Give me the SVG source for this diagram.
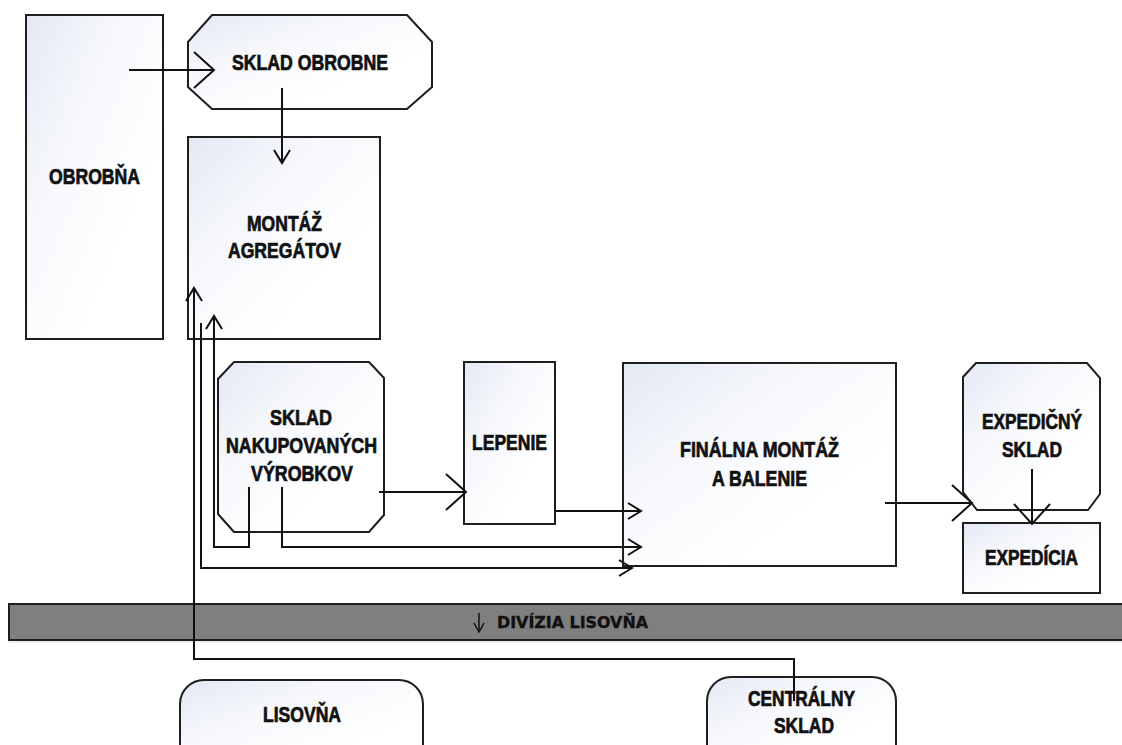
<svg xmlns="http://www.w3.org/2000/svg" width="1122" height="745" viewBox="0 0 1122 745">
<defs>
<linearGradient id="nodeFill" x1="0" y1="0" x2="0.7" y2="0.7">
<stop offset="0" stop-color="#e3e8f4"/>
<stop offset="0.45" stop-color="#f5f7fb"/>
<stop offset="1" stop-color="#ffffff"/>
</linearGradient>
<marker id="big" viewBox="-24 -22 28 44" markerWidth="28" markerHeight="44" refX="0" refY="0" markerUnits="userSpaceOnUse" orient="auto" overflow="visible">
<path d="M-20,-18 L0,0 L-20,18" fill="none" stroke="#111" stroke-width="2"/>
</marker>
<marker id="small" viewBox="-16 -10 20 20" markerWidth="20" markerHeight="20" refX="0" refY="0" markerUnits="userSpaceOnUse" orient="auto" overflow="visible">
<path d="M-13,-8 L0,0 L-13,8" fill="none" stroke="#111" stroke-width="2"/>
</marker>
<marker id="tiny" viewBox="-10 -6 12 12" markerWidth="12" markerHeight="12" refX="0" refY="0" markerUnits="userSpaceOnUse" orient="auto" overflow="visible">
<path d="M-9,-5 L0,0 L-9,5" fill="none" stroke="#111" stroke-width="1.5"/>
</marker>
</defs>
<style>
.node{fill:url(#nodeFill);stroke:#1e1e1e;stroke-width:2}
.lbl{font-family:"Liberation Sans",Arial,sans-serif;font-weight:bold;font-size:21.5px;fill:#111;stroke:#111;stroke-width:0.7;text-anchor:middle}
.bar{fill:#7f7f7f;stroke:#1e1e1e;stroke-width:2}
.barlbl{font-family:"DejaVu Sans","Liberation Sans",sans-serif;font-weight:bold;font-size:16px;fill:#111;stroke:#111;stroke-width:0.4;text-anchor:middle}
.c{fill:none;stroke:#111;stroke-width:2}
</style>
<rect width="1122" height="745" fill="#ffffff"/>

<g id="obrobna">
<rect class="node" x="26" y="15" width="137" height="324"/>
<text class="lbl" x="94.5" y="184" textLength="91" lengthAdjust="spacingAndGlyphs">OBROBŇA</text>
</g>
<g id="sklad-obrobne">
<path class="node" d="M212,15 L407,15 L432,42 L432,87 L407,109 L212,109 L188,87 L188,42 Z"/>
<text class="lbl" x="310" y="69.5" textLength="156" lengthAdjust="spacingAndGlyphs">SKLAD OBROBNE</text>
</g>
<g id="montaz-agregatov">
<rect class="node" x="188" y="137" width="192" height="202"/>
<text class="lbl" x="284.5" y="231" textLength="75" lengthAdjust="spacingAndGlyphs">MONTÁŽ</text>
<text class="lbl" x="284.5" y="258" textLength="113" lengthAdjust="spacingAndGlyphs">AGREGÁTOV</text>
</g>
<g id="sklad-nakupovanych">
<path class="node" d="M234,362 L369,362 L384,378 L384,515 L369,532 L234,532 L218,514 L218,379 Z"/>
<text class="lbl" x="301" y="425" textLength="62" lengthAdjust="spacingAndGlyphs">SKLAD</text>
<text class="lbl" x="301.5" y="453" textLength="151" lengthAdjust="spacingAndGlyphs">NAKUPOVANÝCH</text>
<text class="lbl" x="302" y="481" textLength="102" lengthAdjust="spacingAndGlyphs">VÝROBKOV</text>
</g>
<g id="lepenie">
<rect class="node" x="464" y="362" width="91" height="162"/>
<text class="lbl" x="509.5" y="450" textLength="75" lengthAdjust="spacingAndGlyphs">LEPENIE</text>
</g>
<g id="finalna-montaz">
<rect class="node" x="623" y="363" width="273" height="203"/>
<text class="lbl" x="759.5" y="457" textLength="159" lengthAdjust="spacingAndGlyphs">FINÁLNA MONTÁŽ</text>
<text class="lbl" x="759.5" y="486" textLength="95" lengthAdjust="spacingAndGlyphs">A BALENIE</text>
</g>
<g id="expedicny-sklad">
<path class="node" d="M976,363 L1087,363 L1100,378 L1100,494 L1088,510 L977,510 L963,492 L963,377 Z"/>
<text class="lbl" x="1032" y="429" textLength="100" lengthAdjust="spacingAndGlyphs">EXPEDIČNÝ</text>
<text class="lbl" x="1032" y="457" textLength="60" lengthAdjust="spacingAndGlyphs">SKLAD</text>
</g>
<g id="expedicia">
<rect class="node" x="963" y="523" width="137" height="70"/>
<text class="lbl" x="1031.5" y="565" textLength="93" lengthAdjust="spacingAndGlyphs">EXPEDÍCIA</text>
</g>
<g id="divizia-lisovna">
<rect x="9" y="606" width="1120" height="37" fill="#dfe6f0" opacity="0.6"/>
<rect class="bar" x="9" y="604" width="1120" height="36"/>
<text class="barlbl" x="572.5" y="628" textLength="151" lengthAdjust="spacingAndGlyphs">DIVÍZIA LISOVŇA</text>
</g>
<g id="lisovna">
<rect class="node" x="180" y="680" width="243" height="95" rx="24" ry="24"/>
<text class="lbl" x="302" y="722" textLength="78" lengthAdjust="spacingAndGlyphs">LISOVŇA</text>
</g>
<g id="centralny-sklad">
<rect class="node" x="707" y="677" width="189" height="95" rx="24" ry="24"/>
<text class="lbl" x="801.5" y="706" textLength="107" lengthAdjust="spacingAndGlyphs">CENTRÁLNY</text>
<text class="lbl" x="804" y="733" textLength="60" lengthAdjust="spacingAndGlyphs">SKLAD</text>
</g>

<g id="connectors">
<path class="c" d="M129,70 L214,70" marker-end="url(#big)"/>
<path class="c" d="M282,88 L282,163" marker-end="url(#small)"/>
<path class="c" d="M794,701 L794,659 L194,659 L194,288" marker-end="url(#small)"/>
<path class="c" d="M201,323 L201,568 L632,568" marker-end="url(#small)"/>
<path class="c" d="M249,487 L249,547 L214,547 L214,316" marker-end="url(#small)"/>
<path class="c" d="M282,487 L282,547 L641,547" marker-end="url(#small)"/>
<path class="c" d="M555,511 L641,511" marker-end="url(#small)"/>
<path class="c" d="M379,492 L466,492" marker-end="url(#big)"/>
<path class="c" d="M885,503 L972,503" marker-end="url(#big)"/>
<path class="c" d="M1032,469 L1032,524" marker-end="url(#big)"/>
<path class="c" style="stroke-width:1.5" d="M479,613 L479,632" marker-end="url(#tiny)"/>
</g>
</svg>
